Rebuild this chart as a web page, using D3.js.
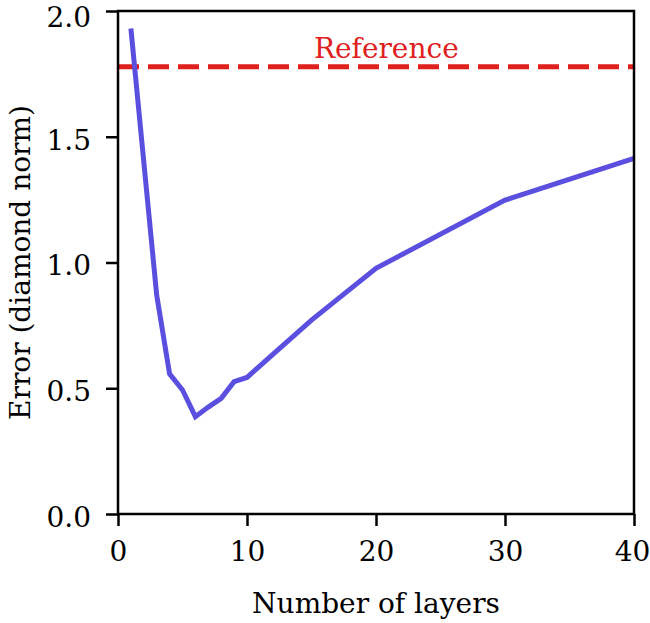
<!DOCTYPE html>
<html>
<head>
<meta charset="utf-8">
<script src="https://cdn.jsdelivr.net/npm/d3@7"></script>
<style>
  body { margin: 0; background: #fff; }
  text { font-family: "DejaVu Serif", serif; }
</style>
</head>
<body>
<svg id="chart" width="650" height="623"></svg>
<script>
// data
const layers = [1, 2, 3, 4, 5, 6, 7, 8, 9, 10, 15, 20, 30, 40];
const errors = [1.93, 1.40, 0.87, 0.557, 0.493, 0.387, 0.425, 0.46, 0.526, 0.543, 0.771, 0.977, 1.248, 1.414];
const referenceError = 1.778;
const xTicks = [0, 10, 20, 30, 40];
const yTicks = [0.0, 0.5, 1.0, 1.5, 2.0];

const svg = d3.select("#chart");
const margin = {left: 118, right: 16, top: 11, bottom: 109};
const W = 650, H = 623;

const x = d3.scaleLinear().domain([0, 40]).range([margin.left, W - margin.right]);
const y = d3.scaleLinear().domain([0, 2]).range([H - margin.bottom, margin.top]);

const fontSize = 28;

// reference line
svg.append("line")
  .attr("x1", x(0)).attr("x2", x(40))
  .attr("y1", y(referenceError)).attr("y2", y(referenceError))
  .attr("stroke", "#e0201c")
  .attr("stroke-width", 5)
  .attr("stroke-dasharray", "21 9");

svg.append("text")
  .attr("x", x(20.8)).attr("y", 58)
  .attr("text-anchor", "middle")
  .attr("fill", "#e0201c")
  .attr("font-size", fontSize)
  .text("Reference");

// error curve
const line = d3.line()
  .x((d, i) => x(layers[i]))
  .y(d => y(d));

svg.append("path")
  .datum(errors)
  .attr("d", line)
  .attr("fill", "none")
  .attr("stroke", "#5b4fe0")
  .attr("stroke-width", 5)
  .attr("stroke-linejoin", "miter");

// axes
const xAxis = d3.axisBottom(x).tickValues(xTicks).tickSize(12).tickPadding(15).tickFormat(d3.format("d"));
const yAxis = d3.axisLeft(y).tickValues(yTicks).tickSize(12).tickPadding(15).tickFormat(d3.format(".1f"));

const gx = svg.append("g").attr("transform", `translate(0,${y(0)})`).call(xAxis);
const gy = svg.append("g").attr("transform", `translate(${x(0)},0)`).call(yAxis);

[gx, gy].forEach(g => {
  g.select(".domain").remove();
  g.selectAll(".tick line").attr("stroke", "#000").attr("stroke-width", 2.5);
  g.selectAll(".tick text").attr("fill", "#000").attr("font-size", fontSize)
    .style("font-family", '"DejaVu Serif", serif');
});
gy.selectAll(".tick text").attr("dy", "0.44em");
// keep the top y label and the last x label inside the page
gy.selectAll(".tick text").filter(d => d === 2).attr("dy", "0.55em");
gx.selectAll(".tick text").filter(d => d === 40).attr("dx", -2);

// frame
svg.append("rect")
  .attr("x", x(0)).attr("y", y(2))
  .attr("width", x(40) - x(0)).attr("height", y(0) - y(2))
  .attr("fill", "none").attr("stroke", "#000").attr("stroke-width", 2.5);

// labels
svg.append("text")
  .attr("x", (x(0) + x(40)) / 2).attr("y", 613)
  .attr("text-anchor", "middle")
  .attr("font-size", fontSize)
  .text("Number of layers");

svg.append("text")
  .attr("transform", `translate(30,${(y(0) + y(2)) / 2}) rotate(-90)`)
  .attr("text-anchor", "middle")
  .attr("font-size", fontSize)
  .text("Error (diamond norm)");
</script>
</body>
</html>
